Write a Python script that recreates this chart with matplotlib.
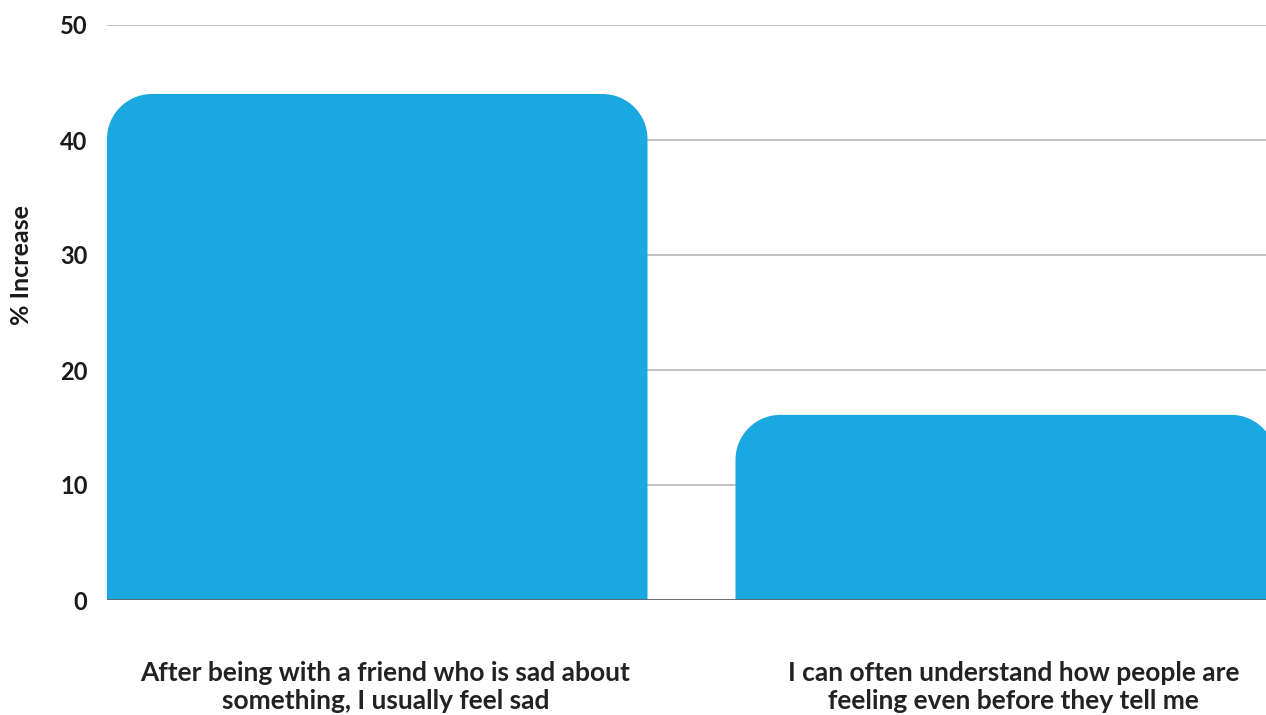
import matplotlib
matplotlib.use("Agg")
import matplotlib.pyplot as plt
from matplotlib.path import Path
from matplotlib.patches import PathPatch
from matplotlib.transforms import ScaledTranslation

categories = ["After being with a friend who is sad about\nsomething, I usually feel sad",
              "I can often understand how people are\nfeeling even before they tell me"]
values = [44.0, 16.1]
yticks = [0, 10, 20, 30, 40, 50]

plt.rcParams['font.family'] = ['Lato', 'DejaVu Sans']
W, H = 1266, 715
fig = plt.figure(figsize=(W / 100, H / 100), dpi=100)
ax = fig.add_axes([107 / W, (H - 600) / H, (1276 - 107) / W, 575 / H])

bar_color = "#19a8e0"
bars = ax.bar(range(len(values)), values, width=0.86, color=bar_color, zorder=2)
ax.set_xlim(-0.43, 1.43)
ax.set_ylim(0, 50)

# rounded top corners
r_px = 45
xpx = ax.get_position().width * W / (1.43 + 0.43)
ypx = ax.get_position().height * H / 50
k = 0.5523
for b in bars:
    x0, y0 = b.get_x(), b.get_y()
    x1, h = x0 + b.get_width(), b.get_height()
    rx, ry = r_px / xpx, r_px / ypx
    verts = [(x0, 0), (x0, h - ry),
             (x0, h - ry + k * ry), (x0 + rx - k * rx, h), (x0 + rx, h),
             (x1 - rx, h),
             (x1 - rx + k * rx, h), (x1, h - ry + k * ry), (x1, h - ry),
             (x1, 0), (x0, 0)]
    codes = [Path.MOVETO, Path.LINETO,
             Path.CURVE4, Path.CURVE4, Path.CURVE4,
             Path.LINETO,
             Path.CURVE4, Path.CURVE4, Path.CURVE4,
             Path.LINETO, Path.CLOSEPOLY]
    b.set_visible(False)
    ax.add_patch(PathPatch(Path(verts, codes), facecolor=bar_color, edgecolor='none', zorder=2))

ax.set_yticks(yticks)
ax.set_yticklabels([str(t) for t in yticks], fontsize=17, fontweight='bold', color='#1a1a1a')
ax.set_xticks(range(len(categories)))
ax.set_xticklabels(categories, fontsize=19, fontweight='bold', color='#222222', linespacing=1.2)
ax.tick_params(axis='y', length=0, pad=14)
ax.tick_params(axis='x', length=0, pad=44)
off = ScaledTranslation(8 / 100, 0, fig.dpi_scale_trans)
for lab in ax.get_xticklabels():
    lab.set_transform(lab.get_transform() + off)
ax.yaxis.grid(True, color='#bbbbbb', lw=1.3)
ax.set_axisbelow(True)
for s in ax.spines.values():
    s.set_visible(False)
ax.axhline(0, color='#666666', lw=2, zorder=3)

fig.text(22 / W, 1 - 265 / H, "% Increase", rotation=90, ha='center', va='center',
         fontsize=18, fontweight='bold', color='#1a1a1a')

fig.savefig("out.png", dpi=100)
